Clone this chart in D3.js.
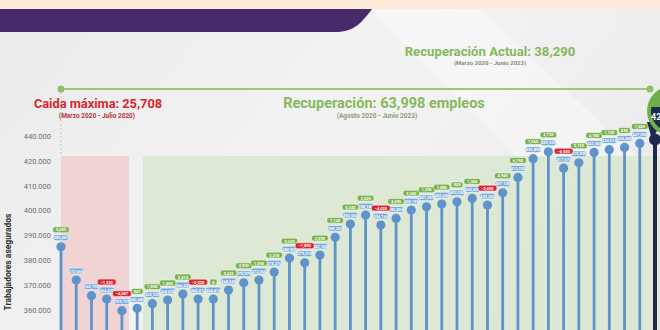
<!DOCTYPE html>
<html>
<head>
<meta charset="utf-8">
<script src="https://cdn.jsdelivr.net/npm/d3@7/dist/d3.min.js"></script>
<style>
body { margin: 0; overflow: hidden; background: #eeeeee; }
svg { display: block; font-family: Roboto, "Noto Sans", sans-serif; }
</style>
</head>
<body>
<div id="chart"></div>
<script>
// Data
const months = [
    "mar-20", "abr-20", "may-20", "jun-20", "jul-20", "ago-20", "sep-20", "oct-20", "nov-20", "dic-20",
    "ene-21", "feb-21", "mar-21", "abr-21", "may-21", "jun-21", "jul-21", "ago-21", "sep-21", "oct-21", "nov-21", "dic-21",
    "ene-22", "feb-22", "mar-22", "abr-22", "may-22", "jun-22", "jul-22", "ago-22", "sep-22", "oct-22", "nov-22", "dic-22",
    "ene-23", "feb-23", "mar-23", "abr-23", "may-23", "jun-23"
];
const workers = [
    385441, 372060, 365750, 364420, 359733, 360680, 362530, 364020, 366430, 364410,
    364418, 368040, 370970, 372060, 375270, 380900, 379010, 382100, 389220, 394560,
    398180, 394160, 396850, 400190, 401520, 402600, 403530, 404890, 402200, 407140,
    413330, 420890, 423620, 417070, 419200, 423380, 424510, 425400, 427000, 428600
];
const firstChange = 3695;
const noChangePill = ["abr-20", "may-20", "jun-23"];
const tickValues = [360000, 370000, 380000, 390000, 400000, 410000, 420000, 430000];
const tickLabels = ["360.000", "370.000", "380.000", "390.000", "400.000", "410.000", "420.000", "440.000"];

const W = 660, H = 330;
const fmt = d3.format(",");

const svg = d3.select("#chart").append("svg")
    .attr("width", W)
    .attr("height", H);

// background
const defs = svg.append("defs");
const bg = defs.append("linearGradient").attr("id", "bg").attr("x1", 0).attr("x2", 1).attr("y1", 0).attr("y2", 0.4);
bg.append("stop").attr("offset", "0%").attr("stop-color", "#ebebeb");
bg.append("stop").attr("offset", "60%").attr("stop-color", "#f3f3f3");
bg.append("stop").attr("offset", "100%").attr("stop-color", "#ececec");
svg.append("rect").attr("width", W).attr("height", H).attr("fill", "url(#bg)");
svg.append("path").attr("d", "M360,0 L470,0 L640,160 L520,160 Z").attr("fill", "#ffffff").attr("opacity", 0.35);

// header band + purple banner
svg.append("rect").attr("width", W).attr("height", 9).attr("fill", "#fcebd9");
svg.append("path")
    .attr("d", "M0,9 L372,9 C362,22 355,32 335,32 L0,32 Z")
    .attr("fill", "#472a69");

// scales
const x = d3.scalePoint().domain(months).range([61, 655]);
const y = d3.scaleLinear().domain([360000, 430000]).range([310, 136]);

// shaded periods
svg.append("rect").attr("x", 61).attr("y", 156).attr("width", 68).attr("height", H - 156)
    .attr("fill", "#f2cfcf").attr("opacity", 0.9);
svg.append("rect").attr("x", 143).attr("y", 156).attr("width", W - 143).attr("height", H - 156)
    .attr("fill", "#dbe8d2").attr("opacity", 0.9);

// recovery line
svg.append("line").attr("x1", 61).attr("x2", 61).attr("y1", 92).attr("y2", 156)
    .attr("stroke", "#b9d4a6").attr("stroke-dasharray", "2,2");
svg.append("line").attr("x1", 61).attr("x2", 650).attr("y1", 89).attr("y2", 89)
    .attr("stroke", "#9cc77c").attr("stroke-width", 2);
svg.selectAll(".enddot").data([61, 650]).enter().append("circle")
    .attr("cx", d => d).attr("cy", 89).attr("r", 3.5).attr("fill", "#8dbf6c");

// titles
svg.append("text").attr("x", 490).attr("y", 56).attr("text-anchor", "middle")
    .attr("font-size", 13.2).attr("font-weight", 700).attr("fill", "#86b85d")
    .text("Recuperación Actual: 38,290");
svg.append("text").attr("x", 490).attr("y", 65).attr("text-anchor", "middle")
    .attr("font-size", 6).attr("font-weight", 700).attr("fill", "#8a8a8a")
    .text("(Marzo 2020 - Junio 2023)");

svg.append("text").attr("x", 98).attr("y", 108).attr("text-anchor", "middle")
    .attr("font-size", 12.8).attr("font-weight", 700).attr("fill", "#d9262f")
    .text("Caida máxima: 25,708");
svg.append("text").attr("x", 97).attr("y", 118).attr("text-anchor", "middle")
    .attr("font-size", 6.5).attr("font-weight", 700).attr("fill", "#b3373a")
    .text("(Marzo 2020 - Julio 2020)");

svg.append("text").attr("x", 384).attr("y", 108).attr("text-anchor", "middle")
    .attr("font-size", 14.5).attr("font-weight", 700).attr("fill", "#86b85d")
    .text("Recuperación: 63,998 empleos");
svg.append("text").attr("x", 377).attr("y", 118).attr("text-anchor", "middle")
    .attr("font-size", 6.5).attr("font-weight", 700).attr("fill", "#8aa07a")
    .text("(Agosto 2020 - Junio 2023)");

// y axis
const yAxis = svg.append("g")
    .attr("transform", "translate(53,0)")
    .call(d3.axisLeft(y).tickValues(tickValues).tickFormat((d, i) => tickLabels[i]).tickSize(0).tickPadding(2));
yAxis.select(".domain").remove();
yAxis.selectAll("text").attr("font-size", 7.5).attr("fill", "#6f6f6f").attr("font-family", "Roboto, sans-serif");

svg.append("text")
    .attr("transform", "translate(11,262) rotate(-90)")
    .attr("text-anchor", "middle")
    .attr("font-size", 8.5).attr("font-weight", 700).attr("fill", "#2e2e2e")
    .text("Trabajadores asegurados");

// lollipops
const points = months.map((m, i) => ({
    month: m,
    value: workers[i],
    change: i === 0 ? firstChange : workers[i] - workers[i - 1],
    last: i === months.length - 1
}));

svg.selectAll(".stem").data(points).enter().append("line")
    .attr("class", "stem")
    .attr("x1", d => x(d.month)).attr("x2", d => x(d.month))
    .attr("y1", d => y(d.value)).attr("y2", H)
    .attr("stroke", d => d.last ? "#1c2a4d" : "#5f93cb")
    .attr("stroke-width", d => d.last ? 4 : 2.8);

svg.selectAll(".dot").data(points).enter().append("circle")
    .attr("cx", d => x(d.month)).attr("cy", d => y(d.value))
    .attr("r", d => d.last ? 6 : 4.6)
    .attr("fill", d => d.last ? "#1c2a4d" : "#5f93cb");

// value pills
const pts = points.filter(d => !d.last);
const vp = svg.selectAll(".vpill").data(pts).enter().append("g")
    .attr("transform", d => `translate(${x(d.month)},${y(d.value) - 9})`);
vp.append("rect").attr("x", -7.8).attr("y", -2.9).attr("width", 15.6).attr("height", 5.8).attr("rx", 2.4)
    .attr("fill", "#78a8dc").attr("stroke", "#ffffff").attr("stroke-width", 0.6);
vp.append("text").attr("text-anchor", "middle").attr("dy", "1.5").attr("font-size", 4)
    .attr("font-weight", 700).attr("fill", "#ffffff").text(d => fmt(d.value));

// change pills
const cp = svg.selectAll(".cpill").data(pts.filter(d => !noChangePill.includes(d.month))).enter().append("g")
    .attr("transform", d => `translate(${x(d.month)},${y(d.value) - 17})`);
cp.append("rect")
    .attr("x", d => -(fmt(d.change).length * 1.15 + 2.5))
    .attr("width", d => 2 * (fmt(d.change).length * 1.15 + 2.5))
    .attr("y", -2.9).attr("height", 5.8).attr("rx", 2)
    .attr("fill", d => d.change < 0 ? "#d9262f" : "#7ab24e")
    .attr("stroke", "#ffffff").attr("stroke-width", 0.5);
cp.append("text").attr("text-anchor", "middle").attr("dy", "1.5").attr("font-size", 4)
    .attr("font-weight", 700).attr("fill", "#ffffff").text(d => fmt(d.change));

// final value pin (cut by right edge, as in the source)
const lastPt = points[points.length - 1];
const pin = svg.append("g");
pin.append("path")
    .attr("d", `M${x(lastPt.month) - 3},${y(lastPt.value)} L647,122 L662,122 Z`)
    .attr("fill", "#1c2a4d");
pin.append("circle").attr("cx", 672).attr("cy", 111).attr("r", 25).attr("fill", "#6fae4c");
defs.append("clipPath").attr("id", "pinclip").append("rect").attr("x", 600).attr("y", 107).attr("width", 100).attr("height", 40);
pin.append("circle").attr("cx", 672).attr("cy", 111).attr("r", 21).attr("fill", "#1c2a4d").attr("clip-path", "url(#pinclip)");
pin.append("text").attr("x", 651).attr("y", 120).attr("font-size", 9).attr("font-weight", 700)
    .attr("fill", "#ffffff").text(fmt(lastPt.value));
</script>
</body>
</html>
